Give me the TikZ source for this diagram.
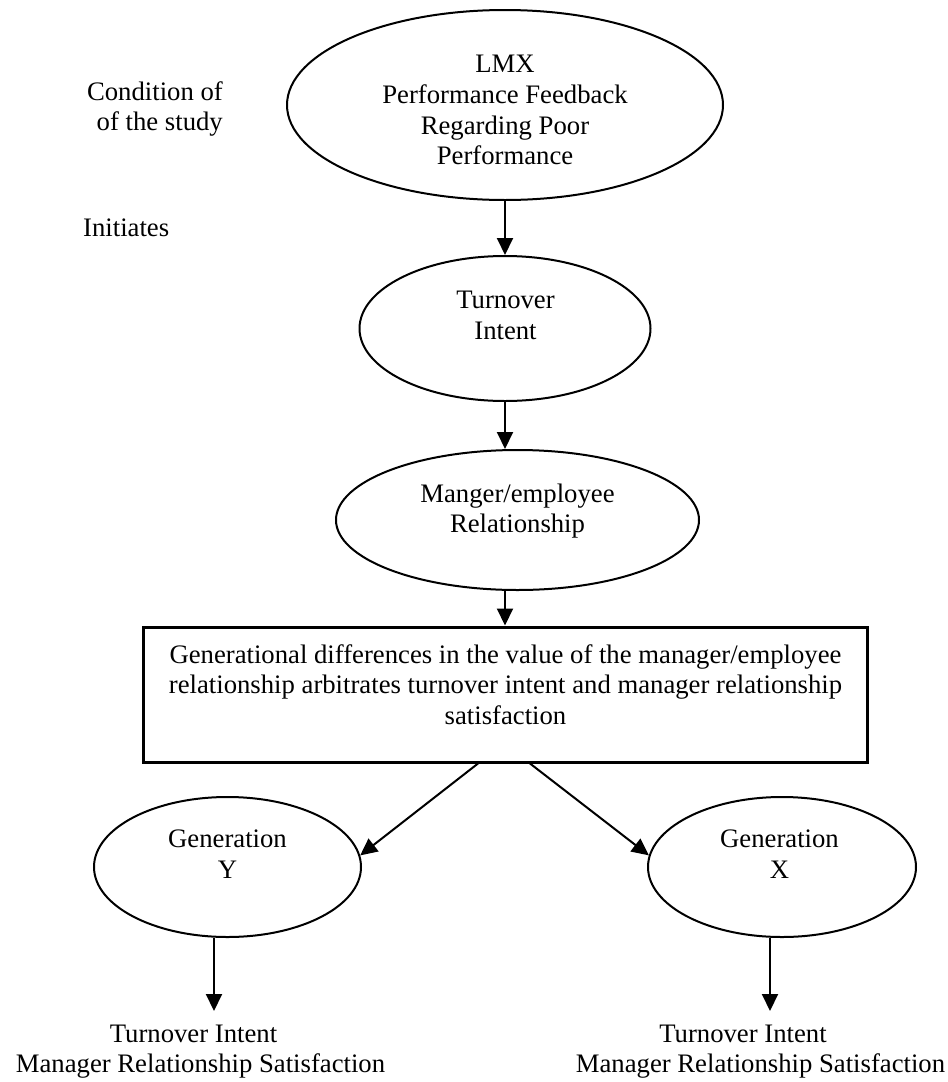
\documentclass[tikz,border=0pt]{standalone}
\usepackage{fontspec}
\setmainfont{Liberation Serif}
\usetikzlibrary{arrows.meta,shapes.geometric,calc}
\begin{document}
\begin{tikzpicture}[x=1pt,y=-1pt,
  lbl/.style={inner sep=0pt, font=\fontsize{26.7}{30.6}\selectfont, align=center},
  oval/.style={draw, ellipse, line width=2pt, inner sep=0pt},
  flow/.style={line width=2pt, -{Triangle[length=17pt,width=16pt]}},
]
\useasboundingbox[fill=white] (0,0) rectangle (948,1082);

% main chain of ellipses
\node[oval, minimum width=436pt, minimum height=190pt] (lmx) at (505,105) {};
\node[lbl] (lmxtext) at (505,110.2) {LMX\\Performance Feedback\\Regarding Poor\\Performance};

\node[oval, minimum width=291pt, minimum height=145pt] (turn) at (505,328.5) {};
\node[lbl] (turntext) at (505.5,315.6) {Turnover\\Intent};

\node[oval, minimum width=363pt, minimum height=140pt] (mgr) at (517.5,520) {};
\node[lbl] (mgrtext) at (517.5,511.1) {Manger/employee\\Relationship};

% moderating statement
\node[draw, line width=3pt, minimum width=724pt, minimum height=135pt, inner sep=0pt] (box) at (505,694.5) {};
\node[lbl] (boxtext) at (505.5,684.5) {Generational differences in the value of the manager/employee\\relationship arbitrates turnover intent and manager relationship\\satisfaction};

% generations
\node[oval, minimum width=267pt, minimum height=140pt] (genY) at (227.5,867) {};
\node[lbl] (genYtext) at (227.5,854.3) {Generation\\Y};
\node[oval, minimum width=268pt, minimum height=140pt] (genX) at (782,867) {};
\node[lbl] (genXtext) at (779.5,854.3) {Generation\\X};

% side captions
\node[lbl, anchor=east, align=right] (cond) at (223,109.1) {Condition of\\of the study};
\node[lbl, anchor=base west] (init) at (83,236) {Initiates};

% outcomes
\node[lbl, anchor=base] (outY1) at (193.5,1042) {Turnover Intent};
\node[lbl, anchor=base] (outY2) at (200.5,1072) {Manager Relationship Satisfaction};
\node[lbl, anchor=base] (outX1) at (743,1042) {Turnover Intent};
\node[lbl, anchor=base] (outX2) at (760.5,1072) {Manager Relationship Satisfaction};
\coordinate (tipY) at (214,1011);
\coordinate (tipX) at (770,1011);

% connectors
\draw[flow] (lmx.south) -- (turn.north);
\draw[flow] (turn.south) -- (turn.south |- mgr.north);
\draw[flow] (mgr.south -| box.north) -- (box.north);
\draw[flow] ($(box.south)+(-27,0)$) -- (genY.5);
\draw[flow] ($(box.south)+(25,0)$) -- (genX.175);
\draw[flow] (genY.south -| tipY) -- (tipY);
\draw[flow] (genX.south -| tipX) -- (tipX);
\end{tikzpicture}
\end{document}
